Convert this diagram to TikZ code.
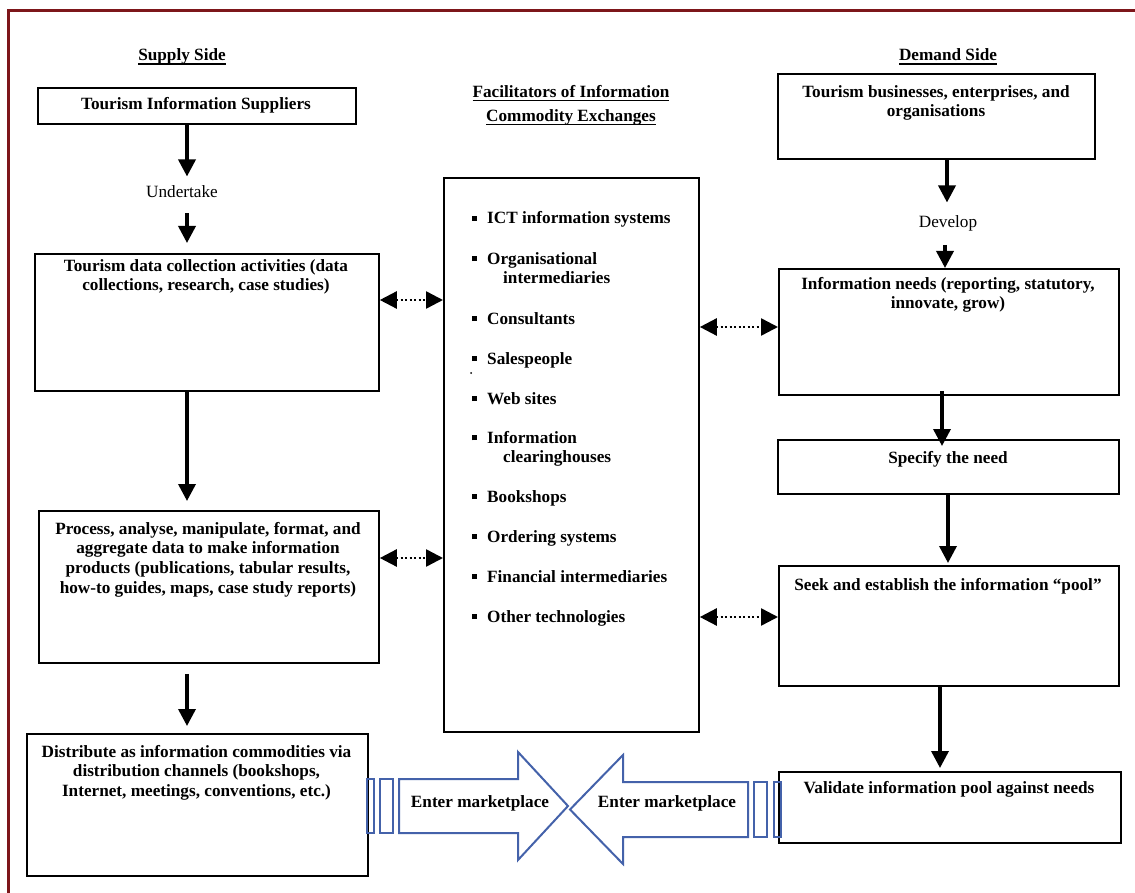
\documentclass[tikz,border=0pt]{standalone}
\usepackage{fontspec}
\setmainfont{Liberation Serif}
\usetikzlibrary{arrows.meta}

\definecolor{borderred}{RGB}{125,22,26}
\definecolor{mktblue}{RGB}{68,98,170}

% underline that sits just under the baseline
\newsavebox{\ulinebox}
\newcommand{\undl}[1]{\sbox{\ulinebox}{#1}\rlap{\rule[-3.6pt]{\wd\ulinebox}{1.2pt}}\usebox{\ulinebox}}
% square bullet of the facilitator list
\newcommand{\sqbul}{\rule[3pt]{5pt}{5pt}\hspace{10pt}}

\tikzset{
  box/.style={draw, line width=1.8pt, inner sep=0pt, anchor=north west},
  txt/.style={font=\fontsize{17.2pt}{19.6pt}\selectfont\bfseries, inner sep=0pt, align=center},
  plain/.style={font=\fontsize{17.2pt}{19.6pt}\selectfont, inner sep=0pt},
  item/.style={font=\fontsize{17.2pt}{19.6pt}\selectfont\bfseries, inner sep=0pt, align=left},
  flow/.style={line width=3.5pt, -{Triangle[width=17pt,length=17pt]}},
  link/.style={line width=2.5pt, dash pattern=on 2pt off 2.5pt,
    {Triangle[width=17pt,length=17pt]}-{Triangle[width=17pt,length=17pt]}},
  market/.style={draw=mktblue, line width=2pt, line join=miter},
}

\begin{document}
\begin{tikzpicture}[x=1pt, y=-1pt]
\useasboundingbox (0,0) rectangle (1135,893);
\fill[white] (0,0) rectangle (1135,893);

% page frame
\draw[draw=borderred, line width=3pt] (8.5,893) -- (8.5,10.5) -- (1135,10.5);

% column guides for the vertical arrows
\coordinate (colL) at (187,0);
\coordinate (colR1) at (947,0);
\coordinate (colR2) at (945,0);
\coordinate (colR3) at (942,0);
\coordinate (colR4) at (948,0);
\coordinate (colR5) at (940,0);
% rows of the dotted links
\coordinate (rowA) at (0,300);
\coordinate (rowB) at (0,558);
\coordinate (rowC) at (0,327);
\coordinate (rowD) at (0,617);

% ---------------- headings
\node[txt, anchor=base] (supply) at (182,61) {\undl{Supply Side}};
\node[txt, anchor=base] (demand) at (948,61) {\undl{Demand Side}};
\node[txt, anchor=north] (facil) at (571,85)
  {\undl{Facilitators of Information}\\[4.4pt]\undl{Commodity Exchanges}};

% ---------------- supply side
\node[box, minimum width=318pt, minimum height=36pt] (sup1) at (37,87) {};
\node[txt, anchor=base] (sup1t) at (196,110) {Tourism Information Suppliers};

\node[plain, anchor=base] (und) at (182,198) {Undertake};

\node[box, minimum width=344pt, minimum height=137pt] (sup2) at (34,253) {};
\node[txt, anchor=north] (sup2t) at (206,259)
  {Tourism data collection activities (data\\collections, research, case studies)};

\node[box, minimum width=340pt, minimum height=152pt] (sup3) at (38,510) {};
\node[txt, anchor=north] (sup3t) at (208,522)
  {Process, analyse, manipulate, format, and\\aggregate data to make information\\
   products (publications, tabular results,\\how-to guides, maps, case study reports)};

\node[box, minimum width=341pt, minimum height=142pt] (sup4) at (26,733) {};
\node[txt, anchor=north] (sup4t) at (196.5,745)
  {Distribute as information commodities via\\distribution channels (bookshops,\\
   Internet, meetings, conventions, etc.)};

\draw[flow, shorten >=9.4pt] (sup1.south -| colL) -- (und.north -| colL);
\draw[flow, shorten <=15pt, shorten >=10pt] (und.south -| colL) -- (sup2.north -| colL);
\draw[flow, shorten >=9pt] (sup2.south -| colL) -- (sup3.north -| colL);
\draw[flow, shorten <=10pt, shorten >=7pt] (sup3.south -| colL) -- (sup4.north -| colL);

% ---------------- facilitators
\node[box, minimum width=255pt, minimum height=554pt] (hub) at (443,177) {};
\node[item, anchor=base west] (f1) at (472,224) {\sqbul ICT information systems};
\node[item, anchor=north west] (f2) at (472,252) {\sqbul Organisational\\\hspace*{31pt}intermediaries};
\node[item, anchor=base west] (f3) at (472,324) {\sqbul Consultants};
\node[item, anchor=base west] (f4) at (472,364) {\sqbul Salespeople};
\node[circle, fill, inner sep=0pt, minimum size=2pt] (speck) at (471,373) {};
\node[item, anchor=base west] (f5) at (472,404) {\sqbul Web sites};
\node[item, anchor=north west] (f6) at (472,431) {\sqbul Information\\\hspace*{31pt}clearinghouses};
\node[item, anchor=base west] (f7) at (472,502) {\sqbul Bookshops};
\node[item, anchor=base west] (f8) at (472,542) {\sqbul Ordering systems};
\node[item, anchor=base west] (f9) at (472,582) {\sqbul Financial intermediaries};
\node[item, anchor=base west] (f10) at (472,622) {\sqbul Other technologies};

% ---------------- demand side
\node[box, minimum width=317pt, minimum height=85pt] (dem1) at (777,73) {};
\node[txt, anchor=north] (dem1t) at (936,85)
  {Tourism businesses, enterprises, and\\organisations};

\node[plain, anchor=base] (dev) at (948,228) {Develop};

\node[box, minimum width=340pt, minimum height=126pt] (dem2) at (778,268) {};
\node[txt, anchor=north] (dem2t) at (948,277)
  {Information needs (reporting, statutory,\\innovate, grow)};

\node[box, minimum width=341pt, minimum height=54pt] (dem3) at (777,439) {};
\node[txt, anchor=base] (dem3t) at (948,463) {Specify the need};

\node[box, minimum width=340pt, minimum height=120pt] (dem4) at (778,565) {};
\node[txt, anchor=base] (dem4t) at (948,590) {Seek and establish the information “pool”};

\node[box, minimum width=342pt, minimum height=71pt] (dem5) at (778,771) {};
\node[txt, anchor=base] (dem5t) at (949,793) {Validate information pool against needs};

\draw[flow, shorten >=13.4pt] (dem1.south -| colR1) -- (dev.north -| colR1);
\draw[flow, shorten <=13pt] (dev.south -| colR2) -- (dem2.north -| colR2);
\draw[flow, shorten <=-5pt, shorten >=-7pt] (dem2.south -| colR3) -- (dem3.north -| colR3);
\draw[flow, shorten >=2pt] (dem3.south -| colR4) -- (dem4.north -| colR4);
\draw[flow, shorten >=3pt] (dem4.south -| colR5) -- (dem5.north -| colR5);

% ---------------- dotted exchanges with the facilitators
\draw[link] (sup2.east |- rowA) -- (hub.west |- rowA);
\draw[link] (sup3.east |- rowB) -- (hub.west |- rowB);
\draw[link] (hub.east |- rowC) -- (dem2.west |- rowC);
\draw[link] (hub.east |- rowD) -- (dem4.west |- rowD);

% ---------------- marketplace block arrows
\draw[market] (367,779) rectangle (374,833);
\draw[market] (380,779) rectangle (393,833);
\draw[market] (399,779) -- (518,779) -- (518,752) -- (568,806) -- (518,860)
  -- (518,833) -- (399,833) -- cycle;
\draw[market] (748,782) -- (623,782) -- (623,755) -- (570,809.5) -- (623,864)
  -- (623,837) -- (748,837) -- cycle;
\draw[market] (754,782) rectangle (767,837);
\draw[market] (774,782) rectangle (781,837);
\node[txt, anchor=base] (mkt1) at (480,807) {Enter marketplace};
\node[txt, anchor=base] (mkt2) at (667,807) {Enter marketplace};
\end{tikzpicture}
\end{document}
